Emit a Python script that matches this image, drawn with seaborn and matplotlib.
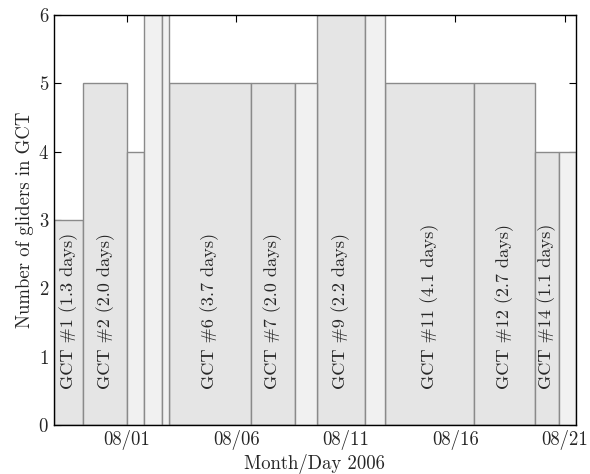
import matplotlib
matplotlib.use("Agg")
import matplotlib.pyplot as plt
import matplotlib.dates as mdates
import numpy as np
import pandas as pd
import seaborn as sns

# Time boundaries of each GCT period (start of each segment, plus final end)
boundaries = ["2006-07-28 16:20", "2006-07-30 00:30", "2006-08-01 00:45",
              "2006-08-01 19:26", "2006-08-02 15:07", "2006-08-02 22:48",
              "2006-08-06 15:50", "2006-08-08 16:48", "2006-08-09 15:50",
              "2006-08-11 20:53", "2006-08-12 18:43", "2006-08-16 20:38",
              "2006-08-19 15:07", "2006-08-20 17:02", "2006-08-21 11:31"]
gliders = [3, 5, 4, 6, 6, 5, 5, 5, 6, 6, 5, 5, 4, 4]
labelled = [True, True, False, False, False, True, True, False, True, False,
            True, True, True, False]
labels = ["GCT #1 (1.3 days)", "GCT #2 (2.0 days)", "", "", "",
          "GCT #6 (3.7 days)", "GCT #7 (2.0 days)", "",
          "GCT #9 (2.2 days)", "", "GCT #11 (4.1 days)",
          "GCT #12 (2.7 days)", "GCT #14 (1.1 days)", ""]
tick_dates = ["2006-08-01", "2006-08-06", "2006-08-11", "2006-08-16", "2006-08-21"]

sns.set_style("ticks")
plt.rcParams["font.family"] = ["cmr10", "DejaVu Serif"]
plt.rcParams["mathtext.fontset"] = "cm"
plt.rcParams["axes.formatter.use_mathtext"] = True
plt.rcParams["axes.unicode_minus"] = False

edges = [float(v) for v in mdates.date2num(pd.to_datetime(boundaries).to_pydatetime())]
centers = [(a + b) / 2 for a, b in zip(edges[:-1], edges[1:])]
df = pd.DataFrame({"center": centers, "gliders": gliders,
                   "labelled": labelled, "label": labels})

fig = plt.figure(figsize=(5.9, 4.74), dpi=100)
ax = fig.add_axes([0.0915, 0.1034, 0.9835 - 0.0915 - 0.008, 0.968 - 0.1034])

edge_col = "#8a8a8a"
sns.histplot(data=df[df.labelled], x="center", weights="gliders", bins=edges,
             color="#e5e5e5", alpha=1, edgecolor=edge_col, linewidth=1.0, ax=ax)
sns.histplot(data=df[~df.labelled], x="center", weights="gliders", bins=edges,
             color="#f1f1f1", alpha=1, edgecolor=edge_col, linewidth=1.0, ax=ax)

for _, r in df[df.labelled].iterrows():
    ax.text(r["center"], 0.53, r["label"], rotation=90, ha="center",
            va="bottom", fontsize=13.1)

ax.set_xlim(edges[0], edges[-1])
ax.set_ylim(0, 6)
ax.set_yticks(range(0, 7))
ax.set_xticks(mdates.date2num(pd.to_datetime(tick_dates).to_pydatetime()))
ax.xaxis.set_major_formatter(mdates.DateFormatter("%m/%d"))
ax.tick_params(direction="in", top=True, right=True, labelsize=13.5,
               length=5, width=0.8, color="black")
for s in ax.spines.values():
    s.set_visible(True)
    s.set_linewidth(1.0)
    s.set_color("black")
ax.set_xlabel("Month/Day 2006", fontsize=13.5, labelpad=3)
ax.set_ylabel("Number of gliders in GCT", fontsize=13.5, labelpad=3)

fig.savefig("out.png", dpi=100)
